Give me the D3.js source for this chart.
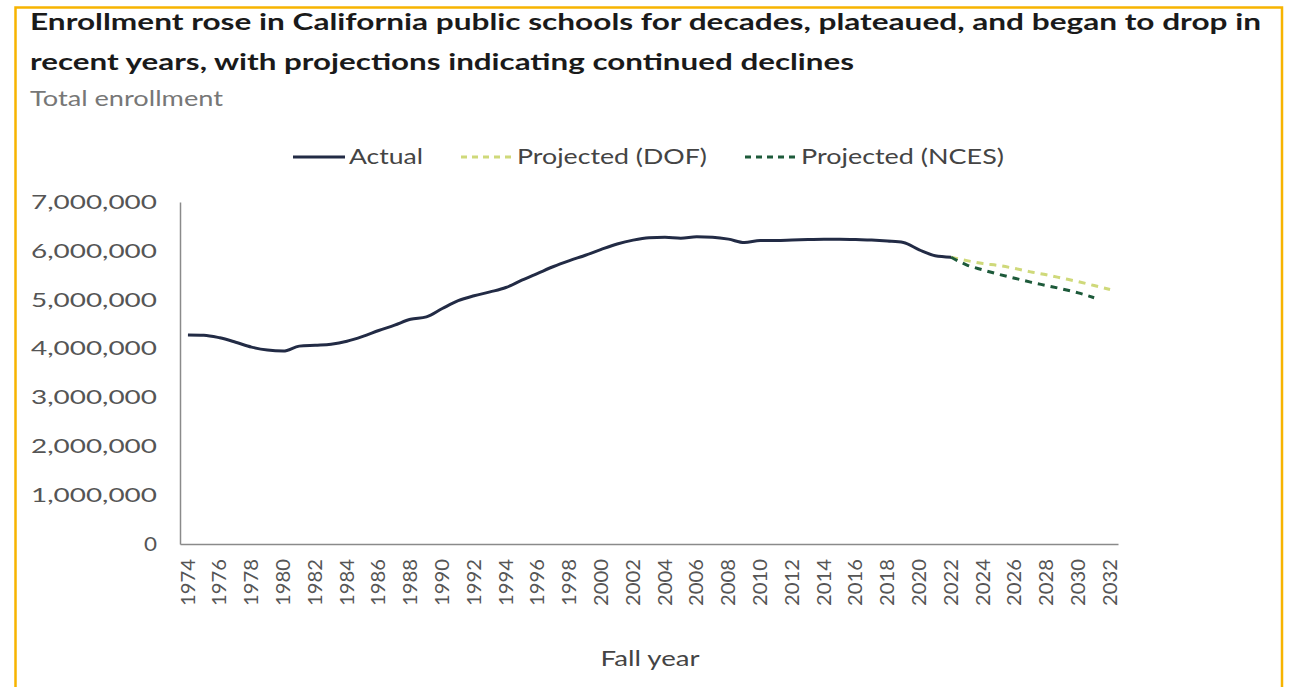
<!DOCTYPE html>
<html>
<head>
<meta charset="utf-8">
<script src="https://cdn.jsdelivr.net/npm/d3@7"></script>
<style>
  html, body { margin: 0; padding: 0; background: #fff; }
  svg { display: block; }
</style>
</head>
<body>
<svg id="chart" width="1289" height="687"></svg>
<script>
// California public school enrollment, fall years
const years = d3.range(1974, 2033);

const actualYears = d3.range(1974, 2023);
const actualValues = [
  4280000, 4275000, 4220000, 4130000, 4030000, 3970000, 3950000, 4050000, 4070000, 4090000,
  4150000, 4250000, 4370000, 4480000, 4600000, 4650000, 4820000, 4980000, 5080000, 5160000,
  5250000, 5400000, 5540000, 5680000, 5800000, 5910000, 6030000, 6140000, 6220000, 6270000,
  6280000, 6260000, 6290000, 6280000, 6240000, 6170000, 6210000, 6210000, 6220000, 6230000,
  6240000, 6240000, 6230000, 6220000, 6200000, 6170000, 6020000, 5900000, 5870000
];

const dofYears = d3.range(2022, 2033);
const dofValues = [5870000, 5800000, 5740000, 5700000, 5640000, 5570000, 5510000, 5440000, 5370000, 5290000, 5210000];

const ncesYears = d3.range(2022, 2032);
const ncesValues = [5870000, 5710000, 5610000, 5520000, 5440000, 5360000, 5290000, 5220000, 5140000, 5040000];

const yTicks = [0, 1000000, 2000000, 3000000, 4000000, 5000000, 6000000, 7000000];
const xTickYears = years.filter(y => (y - 1974) % 2 === 0);

const titleLines = [
  "Enrollment rose in California public schools for decades, plateaued, and began to drop in",
  "recent years, with projections indicating continued declines"
];
const subtitle = "Total enrollment";
const xTitle = "Fall year";

const seriesNames = ["Actual", "Projected (DOF)", "Projected (NCES)"];
const colors = { actual: "#222b45", dof: "#cfd97a", nces: "#1d5a3a" };

const svg = d3.select("#chart");
const font = "Lato, 'Open Sans', 'Liberation Sans', sans-serif";

// Frame: orange rule on top, left and right
svg.append("path")
  .attr("d", "M15.5,687 L15.5,7.5 L1282,7.5 L1282,687")
  .attr("fill", "none")
  .attr("stroke", "#f7b400")
  .attr("stroke-width", 2.5);

// Title block
const titleBaselines = [30, 70];
titleLines.forEach((t, i) => {
  svg.append("text")
    .attr("x", 30).attr("y", titleBaselines[i])
    .attr("font-family", font)
    .attr("font-weight", 700)
    .attr("font-size", 23)
    .attr("fill", "#1a1a1a")
    .attr("textLength", i === 0 ? 1231 : 824)
    .attr("lengthAdjust", "spacingAndGlyphs")
    .text(t);
});
svg.append("text")
  .attr("x", 30).attr("y", 106)
  .attr("font-family", font)
  .attr("font-size", 21)
  .attr("fill", "#777")
  .attr("textLength", 193)
  .attr("lengthAdjust", "spacingAndGlyphs")
  .text(subtitle);

// Scales
const x = d3.scaleBand().domain(years).range([180, 1118]).padding(0);
const cx = yr => x(yr) + x.bandwidth() / 2;
const y = d3.scaleLinear().domain([0, 7000000]).range([544, 202]);

// Axes
const yAxis = d3.axisLeft(y).tickValues(yTicks).tickSize(0).tickPadding(23)
  .tickFormat(d3.format(",d"));
const gy = svg.append("g").attr("transform", "translate(180,0)").call(yAxis);
gy.select(".domain").attr("stroke", "#8a8a8a").attr("stroke-width", 1.5);
gy.selectAll("text")
  .attr("font-family", font).attr("font-size", 20).attr("fill", "#555")
  .attr("textLength", d => d === 0 ? 13 : 126)
  .attr("lengthAdjust", "spacingAndGlyphs");

const xAxis = d3.axisBottom(x).tickValues(xTickYears).tickSize(0).tickPadding(0);
const gx = svg.append("g").attr("transform", "translate(0,544)").call(xAxis);
gx.select(".domain").attr("stroke", "#8a8a8a").attr("stroke-width", 1.5);
gx.selectAll("text")
  .attr("font-family", font).attr("font-size", 19).attr("fill", "#555")
  .attr("transform", "rotate(-90)")
  .attr("text-anchor", "end")
  .attr("dy", "0.35em")
  .attr("x", -15).attr("y", 0)
  .attr("textLength", 47)
  .attr("lengthAdjust", "spacingAndGlyphs");

svg.append("text")
  .attr("x", 650).attr("y", 666)
  .attr("text-anchor", "middle")
  .attr("font-family", font).attr("font-size", 21).attr("fill", "#444")
  .attr("textLength", 99).attr("lengthAdjust", "spacingAndGlyphs")
  .text(xTitle);

// Lines
const line = d3.line().x(d => cx(d[0])).y(d => y(d[1])).curve(d3.curveMonotoneX);

svg.append("path")
  .datum(dofYears.map((yr, i) => [yr, dofValues[i]]))
  .attr("d", line).attr("fill", "none")
  .attr("stroke", colors.dof).attr("stroke-width", 3)
  .attr("stroke-dasharray", "7,6");

svg.append("path")
  .datum(ncesYears.map((yr, i) => [yr, ncesValues[i]]))
  .attr("d", line).attr("fill", "none")
  .attr("stroke", colors.nces).attr("stroke-width", 3)
  .attr("stroke-dasharray", "7,6");

svg.append("path")
  .datum(actualYears.map((yr, i) => [yr, actualValues[i]]))
  .attr("d", line).attr("fill", "none")
  .attr("stroke", colors.actual).attr("stroke-width", 3)
  .attr("stroke-linejoin", "round");

// Legend
const legendItems = [
  { name: seriesNames[0], color: colors.actual, dash: null, x0: 293, tw: 74 },
  { name: seriesNames[1], color: colors.dof, dash: "6,5", x0: 461, tw: 190 },
  { name: seriesNames[2], color: colors.nces, dash: "6,5", x0: 745, tw: 203 }
];
const lg = svg.append("g");
legendItems.forEach(it => {
  lg.append("line")
    .attr("x1", it.x0).attr("x2", it.x0 + 52)
    .attr("y1", 157).attr("y2", 157)
    .attr("stroke", it.color).attr("stroke-width", 3)
    .attr("stroke-dasharray", it.dash);
  lg.append("text")
    .attr("x", it.x0 + 56).attr("y", 164)
    .attr("font-family", font).attr("font-size", 21).attr("fill", "#444")
    .attr("textLength", it.tw).attr("lengthAdjust", "spacingAndGlyphs")
    .text(it.name);
});
</script>
</body>
</html>
